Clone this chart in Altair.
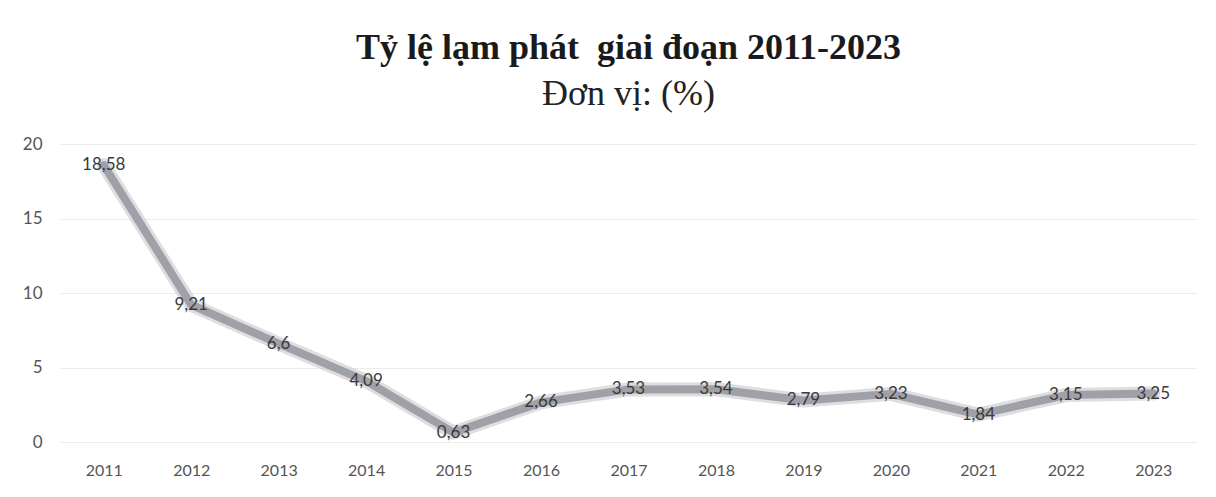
import altair as alt
import pandas as pd

years = ["2011", "2012", "2013", "2014", "2015", "2016", "2017", "2018", "2019", "2020", "2021", "2022", "2023"]
values = [18.58, 9.21, 6.6, 4.09, 0.63, 2.66, 3.53, 3.54, 2.79, 3.23, 1.84, 3.15, 3.25]
labels = ["18,58", "9,21", "6,6", "4,09", "0,63", "2,66", "3,53", "3,54", "2,79", "3,23", "1,84", "3,15", "3,25"]

df = pd.DataFrame({"year": years, "value": values, "label": labels})

x = alt.X("year:O", sort=years, title=None,
          scale=alt.Scale(type="point", padding=0.5),
          axis=alt.Axis(labelAngle=0, ticks=False, domain=False, grid=False,
                        labelFont="Lato", labelFontSize=16, labelColor="#555555",
                        labelPadding=20))
y = alt.Y("value:Q", title=None,
          scale=alt.Scale(domain=[0, 20], nice=False),
          axis=alt.Axis(values=[0, 5, 10, 15, 20], ticks=False, domain=False,
                        grid=True, gridColor="#ececec", gridWidth=1,
                        labelFont="Lato", labelFontSize=17, labelColor="#555555",
                        labelPadding=18))

base = alt.Chart(df)

shadow = base.mark_line(color="#d0d0d6", strokeWidth=14, opacity=0.7,
                        strokeJoin="round", strokeCap="round").encode(x=x, y=y)
line = base.mark_line(color="#a0a0a8", strokeWidth=8,
                      strokeJoin="round", strokeCap="round").encode(x=x, y=y)
text = base.mark_text(font="Lato", fontSize=17, color="#3a3a3a",
                      align="center", baseline="middle").encode(
    x=x, y=y, text="label:N")

chart = alt.layer(shadow, line, text).properties(
    width=1137,
    height=298,
    padding={"left": 14, "top": 22, "right": 5, "bottom": 5},
    title=alt.TitleParams(
        text="Tỷ lệ lạm phát\u00a0\u00a0giai đoạn 2011-2023",
        subtitle="Đơn vị: (%)",
        font="Liberation Serif", fontSize=36, fontWeight="bold", color="#1a1a1a",
        subtitleFont="Liberation Serif", subtitleFontSize=36, subtitleColor="#222222",
        subtitlePadding=10, anchor="middle", offset=22,
    ),
).configure(background="white").configure_view(stroke="transparent", strokeWidth=0)

chart.save("out.html", embed_options={"renderer": "svg", "actions": False})
